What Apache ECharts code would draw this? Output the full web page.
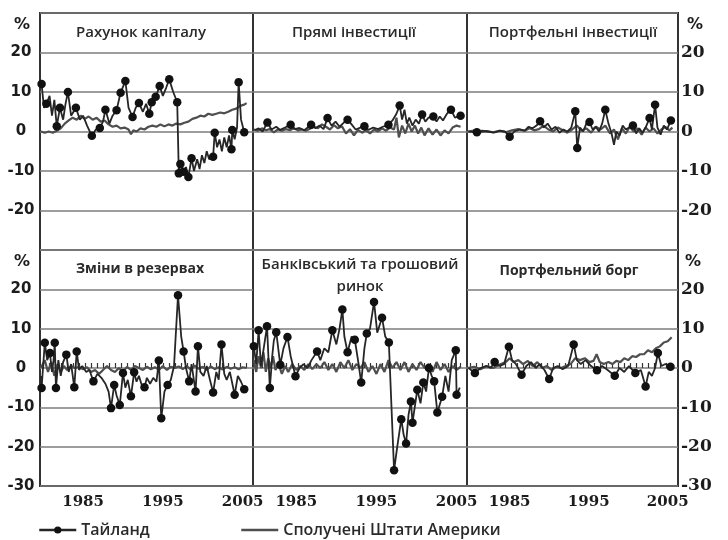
<!DOCTYPE html>
<html>
<head>
<meta charset="utf-8">
<script src="https://cdn.jsdelivr.net/npm/echarts@6/dist/echarts.min.js"></script>
<style>
  html, body { margin: 0; padding: 0; background: #fff; }
  #chart { width: 728px; height: 540px; }
</style>
</head>
<body>
<div id="chart"></div>
<script>
// Capital flows, Thailand vs United States, % of GDP, 1980-2005.
// Thailand points: [year, value, marker flag]; US points: [year, value].

const seriesNames = ['Тайланд', 'Сполучені Штати Америки'];
const panelTitles = [
  'Рахунок капіталу', 'Прямі інвестиції', 'Портфельні інвестиції',
  'Зміни в резервах', 'Банківський та грошовий\nринок', 'Портфельний борг'
];
const yearLabels = [1985, 1995, 2005];
const yTicks = [-30, -20, -10, 0, 10, 20, 30];

const capitalThai = [
  [1979.8, 12, 1], [1980.1, 6, 0], [1980.4, 7, 1], [1980.8, 9, 0], [1981.1, 4, 0], [1981.4, 8, 0],
  [1981.7, 1.3, 1], [1982.1, 6, 1], [1982.5, 3, 0], [1982.8, 7, 0], [1983.1, 10, 1], [1983.5, 4, 0],
  [1984.1, 6, 1], [1984.6, 3, 0], [1985.0, 4, 0], [1985.5, 1.5, 0], [1986.1, -1.1, 1], [1986.6, 0.5, 0],
  [1987.1, 0.9, 1], [1987.5, 2.5, 0], [1987.8, 5.5, 1], [1988.3, 2, 0], [1988.7, 4, 0], [1989.2, 5.4, 1],
  [1989.7, 9.8, 1], [1990.3, 12.8, 1], [1990.7, 6, 0], [1991.2, 3.7, 1], [1991.6, 6, 0], [1992.0, 7.2, 1],
  [1992.5, 5, 0], [1992.9, 7, 0], [1993.3, 4.5, 1], [1993.6, 7.4, 1], [1994.1, 8.8, 1], [1994.6, 11.5, 1],
  [1995.0, 9, 0], [1995.4, 11, 0], [1995.8, 13.2, 1], [1996.3, 10, 0], [1996.8, 7.4, 1], [1997.0, -10.6, 1],
  [1997.2, -8.2, 1], [1997.6, -10.2, 1], [1997.9, -9, 0], [1998.2, -11.5, 1], [1998.6, -6.8, 1], [1998.9, -10, 0],
  [1999.3, -7, 0], [1999.6, -9.5, 0], [1999.9, -6, 0], [2000.2, -8, 0], [2000.5, -5, 0], [2000.8, -7, 0],
  [2001.3, -6.4, 1], [2001.5, -0.3, 1], [2001.8, -4, 0], [2002.1, -2, 0], [2002.4, -5, 0], [2002.7, -1.5, 0],
  [2003.0, -4, 0], [2003.3, -1, 0], [2003.6, -4.5, 1], [2003.7, 0.4, 1], [2004.0, -2, 0], [2004.3, 1, 0],
  [2004.5, 12.5, 1], [2004.8, 3, 0], [2005.2, -0.2, 1]
];
const capitalUS = [
  [1979.7, 0], [1980.2, -0.3], [1980.7, 0], [1981.2, -0.3], [1981.7, 0.2], [1982.2, 0.8], [1982.7, 2],
  [1983.2, 2.8], [1983.7, 3.5], [1984.2, 3], [1984.7, 4], [1985.2, 3.2], [1985.7, 3.8], [1986.2, 3],
  [1986.7, 3.5], [1987.2, 2.5], [1987.7, 2.8], [1988.2, 1.8], [1988.7, 1.2], [1989.2, 1.5], [1989.7, 0.8],
  [1990.2, 1], [1990.7, 0.5], [1991.0, -0.7], [1991.3, 0.3], [1991.7, 0], [1992.2, 0.8], [1992.7, 0.5],
  [1993.2, 1.2], [1993.7, 1.5], [1994.2, 1.2], [1994.7, 1.8], [1995.2, 1.3], [1995.7, 1.8], [1996.2, 1.5],
  [1996.7, 2], [1997.2, 1.8], [1997.7, 2.2], [1998.2, 2.5], [1998.7, 3.2], [1999.2, 3.5], [1999.7, 4],
  [2000.2, 3.8], [2000.7, 4.5], [2001.2, 4.2], [2001.7, 4.5], [2002.2, 4.8], [2002.7, 4.6], [2003.2, 5],
  [2003.7, 5.5], [2004.2, 5.8], [2004.7, 6.5], [2005.2, 6.8], [2005.5, 7.2]
];

const directThai = [
  [1979.8, 0.3, 0], [1980.3, 0.8, 0], [1980.8, 0, 0], [1981.4, 2.3, 1], [1981.9, 0.5, 0], [1982.5, 1.2, 0],
  [1983.0, 0.4, 0], [1983.6, 1, 0], [1984.3, 1.7, 1], [1984.8, 0.6, 0], [1985.4, 0.9, 0], [1986.0, 0.3, 0],
  [1986.85, 1.7, 1], [1987.4, 0.8, 0], [1987.9, 1.5, 0], [1988.4, 0.6, 0], [1988.9, 3.4, 1], [1989.4, 1.5, 0],
  [1989.9, 2.5, 0], [1990.4, 1.2, 0], [1990.9, 2.2, 0], [1991.4, 3.0, 1], [1991.9, 1.8, 0], [1992.4, 0.5, 0],
  [1993.0, 1.0, 0], [1993.5, 1.3, 1], [1994.0, 0.4, 0], [1994.6, 1.0, 0], [1995.2, 0.6, 0], [1995.8, 1.2, 0],
  [1996.5, 1.7, 1], [1997.0, 2.8, 0], [1997.5, 4.5, 0], [1997.9, 6.6, 1], [1998.2, 3, 0], [1998.5, 5.5, 0],
  [1998.8, 2, 0], [1999.1, 3.5, 0], [1999.5, 1.5, 0], [1999.9, 3, 0], [2000.3, 2, 0], [2000.7, 4.3, 1],
  [2001.1, 2.5, 0], [2001.5, 3.5, 0], [2002.1, 3.8, 1], [2002.5, 2.5, 0], [2002.9, 3.8, 0], [2003.3, 2.8, 0],
  [2003.8, 4.5, 0], [2004.3, 5.5, 1], [2004.8, 3.5, 0], [2005.5, 4.0, 1]
];
const directUS = [
  [1979.7, 0.5], [1980.2, 0.2], [1980.7, 0.8], [1981.2, 0.3], [1981.7, 0.6], [1982.2, -0.2], [1982.7, 0.5],
  [1983.2, 0.2], [1983.7, 0.6], [1984.2, 0.3], [1984.7, 0.8], [1985.2, 0.3], [1985.7, 0.5], [1986.2, 0.2],
  [1986.7, 0.7], [1987.2, 1.2], [1987.7, 0.8], [1988.2, 1.8], [1988.7, 1.2], [1989.2, 0.5], [1989.7, 1.6],
  [1990.2, 0.8], [1990.7, 1.3], [1991.2, -0.5], [1991.7, 0.6], [1992.2, -1], [1992.7, 0.4], [1993.2, -0.3],
  [1993.7, 0.3], [1994.2, -0.5], [1994.7, 0.5], [1995.2, 0], [1995.7, 0.8], [1996.2, 0.2], [1996.7, 1],
  [1997.2, 0.5], [1997.5, 3.5], [1997.8, -1.5], [1998.2, 1.5], [1998.6, -0.5], [1999.0, 2], [1999.4, 0],
  [1999.8, 1.5], [2000.2, -0.5], [2000.6, 1], [2001.0, -1], [2001.5, 0.8], [2002.0, -0.8], [2002.5, 0.5],
  [2003.0, -1], [2003.5, 0.3], [2004.0, -0.5], [2004.5, 1], [2005.0, 1.5], [2005.5, 1.2]
];

const portfolioThai = [
  [1979.8, 0, 0], [1980.85, -0.2, 1], [1981.5, 0.2, 0], [1982.2, 0, 0], [1983.0, -0.3, 0], [1983.8, 0.2, 0],
  [1984.4, 0, 0], [1985.0, -1.3, 1], [1985.6, 0, 0], [1986.3, 0.5, 0], [1986.9, 0.2, 0], [1987.4, 1.2, 0],
  [1987.9, 0.8, 0], [1988.4, 1.5, 0], [1988.85, 2.6, 1], [1989.3, 1, 0], [1989.8, 2, 0], [1990.3, 0.5, 0],
  [1990.8, 1.2, 0], [1991.3, -0.3, 0], [1991.8, 0.5, 0], [1992.3, 0, 0], [1992.8, 1, 0], [1993.3, 5.1, 1],
  [1993.55, -4.2, 1], [1993.9, 1, 0], [1994.3, 0, 0], [1994.7, 2, 0], [1995.1, 2.4, 1], [1995.5, 0.5, 0],
  [1995.9, 1.2, 0], [1996.3, 0, 0], [1996.7, 2, 0], [1997.1, 5.5, 1], [1997.5, 2, 0], [1997.9, -0.5, 0],
  [1998.2, -3.4, 0], [1998.5, 0, 0], [1998.9, -1, 0], [1999.3, 1.5, 0], [1999.7, 0.5, 0], [2000.1, 1, 0],
  [2000.6, 1.5, 1], [2001.0, -0.5, 0], [2001.4, 0.8, 0], [2001.8, -0.3, 0], [2002.2, 1, 0], [2002.7, 3.4, 1],
  [2003.0, 0.5, 0], [2003.4, 6.8, 1], [2003.7, 1, 0], [2004.1, -0.8, 0], [2004.5, 1.5, 0], [2004.9, 0.5, 0],
  [2005.4, 2.8, 1]
];
const portfolioUS = [
  [1979.7, 0], [1980.5, 0.2], [1981.3, -0.2], [1982.1, 0.1], [1982.9, -0.2], [1983.7, 0.2], [1984.5, -0.2],
  [1985.3, 0.3], [1986.1, 0.6], [1986.9, 0.2], [1987.5, 0.8], [1988.1, 0.3], [1988.7, 0.6], [1989.3, 1.5],
  [1989.9, 0.5], [1990.5, 0], [1991.1, 1], [1991.7, 0.3], [1992.3, -0.3], [1992.9, 0.5], [1993.5, 1.5],
  [1994.1, 0.2], [1994.7, 0.8], [1995.3, -0.3], [1995.9, 1.2], [1996.5, 0.5], [1997.1, 1.5], [1997.7, -0.5],
  [1998.2, 0.5], [1998.7, -2], [1999.2, 0.8], [1999.7, -0.5], [2000.2, 1.2], [2000.7, 0], [2001.2, 0.8],
  [2001.7, -0.8], [2002.2, 1], [2002.7, 0], [2003.2, 0.8], [2003.7, -0.5], [2004.2, 0.5], [2004.7, 1.2],
  [2005.2, 0.3], [2005.6, 1]
];

const reservesThai = [
  [1979.7, -2, 0], [1979.8, -5.1, 1], [1980.2, 6.4, 1], [1980.5, 2, 0], [1980.85, 3.8, 1], [1981.1, -1, 0],
  [1981.3, 2, 0], [1981.45, 6.4, 1], [1981.6, -5.1, 1], [1981.9, 2, 0], [1982.2, -2, 0], [1982.5, 1.5, 0],
  [1982.9, 3.4, 1], [1983.2, -1, 0], [1983.5, 1, 0], [1983.9, -4.9, 1], [1984.2, 4.2, 1], [1984.5, -0.5, 0],
  [1984.9, 0.5, 0], [1985.4, -1, 0], [1985.8, -0.5, 0], [1986.3, -3.4, 1], [1986.8, -1.5, 0], [1987.3, -2.5, 0],
  [1987.8, -4, 0], [1988.2, -6, 0], [1988.5, -10.2, 1], [1988.9, -4.3, 1], [1989.2, -7, 0], [1989.6, -9.4, 1],
  [1990.0, -1.3, 1], [1990.3, -5, 0], [1990.6, -3, 0], [1991.0, -7.2, 1], [1991.4, -1.1, 1], [1991.7, -3.5, 0],
  [1992.0, -2, 0], [1992.3, -4, 0], [1992.7, -4.9, 1], [1993.0, -2.5, 0], [1993.4, -4, 0], [1993.8, -2.5, 0],
  [1994.2, -3.5, 0], [1994.5, 1.9, 1], [1994.8, -12.8, 1], [1995.2, -6, 0], [1995.6, -4.3, 1], [1996.0, -3, 0],
  [1996.4, 0.5, 0], [1996.9, 18.5, 1], [1997.3, 8, 0], [1997.6, 4.2, 1], [1997.9, 0, 0], [1998.3, -3.4, 1],
  [1998.6, 1, 0], [1999.1, -6.0, 1], [1999.4, 5.5, 1], [1999.7, -1, 0], [2000.1, -2, 0], [2000.5, 0.5, 0],
  [2000.9, -3, 0], [2001.3, -6.2, 1], [2001.7, -1, 0], [2002.0, -3, 0], [2002.35, 6.0, 1], [2002.7, -1.5, 0],
  [2003.0, -3, 0], [2003.4, -1, 0], [2004.0, -6.8, 1], [2004.4, -2, 0], [2004.8, -3.5, 0], [2005.2, -5.4, 1]
];
const reservesUS = [
  [1979.7, 0], [1980.2, 2], [1980.6, -1], [1981.0, 1.5], [1981.4, -2], [1981.8, 1], [1982.2, -1],
  [1982.6, 0.5], [1983.0, -0.5], [1983.5, 0.5], [1984.0, 0], [1984.5, 0.3], [1985.0, -0.3], [1985.5, 0.2],
  [1986.0, -1], [1986.5, -0.5], [1987.0, -1.5], [1987.5, -0.5], [1988.0, 0.5], [1988.5, -0.5], [1989.0, -1],
  [1989.5, 0], [1990.0, -1], [1990.5, 0.3], [1991.0, -0.5], [1991.5, 0.5], [1992.0, 0], [1992.5, -0.5],
  [1993.0, 0.3], [1993.5, -0.3], [1994.0, 0.2], [1994.5, -0.5], [1995.0, 0.5], [1995.5, -0.5], [1996.0, 0.3],
  [1996.5, 0], [1997.0, 0.4], [1997.5, -0.3], [1998.0, 0.5], [1998.5, -0.4], [1999.0, 0.6], [1999.5, -0.2],
  [2000.0, 0.3], [2000.5, -0.5], [2001.0, 0.4], [2001.5, -0.3], [2002.0, 0.2], [2002.5, -0.4], [2003.0, 0.3],
  [2003.5, -0.2], [2004.0, 0.2], [2004.5, -0.3], [2005.0, 0.2], [2005.5, 0]
];

const bankingThai = [
  [1979.7, 5.5, 1], [1980.0, 1, 0], [1980.3, 9.6, 1], [1980.6, 0.5, 0], [1981.35, 10.6, 1], [1981.7, -5.1, 1],
  [1982.0, 3, 0], [1982.2, 7, 0], [1982.5, 9.1, 1], [1983.0, 0.8, 1], [1983.4, 5, 0], [1983.9, 7.9, 1],
  [1984.3, 3, 0], [1984.9, -2.1, 1], [1985.4, 0, 0], [1985.9, 1, 0], [1986.4, 0, 0], [1986.9, 2, 0],
  [1987.6, 4.2, 1], [1988.0, 2, 0], [1988.5, 5, 0], [1989.0, 4, 0], [1989.5, 9.6, 1], [1990.0, 6, 0],
  [1990.4, 10, 0], [1990.75, 14.9, 1], [1991.0, 8, 0], [1991.4, 4.0, 1], [1991.9, 8, 0], [1992.3, 7.2, 1],
  [1992.7, 2, 0], [1993.1, -3.7, 1], [1993.5, 5, 0], [1993.8, 8.8, 1], [1994.2, 10, 0], [1994.7, 16.8, 1],
  [1995.1, 9, 0], [1995.7, 12.8, 1], [1996.1, 8, 0], [1996.55, 6.5, 1], [1997.2, -26.0, 1], [1997.6, -20, 0],
  [1998.1, -13.0, 1], [1998.4, -17, 0], [1998.7, -19.2, 1], [1999.0, -12, 0], [1999.3, -8.5, 1], [1999.5, -13.9, 1],
  [2000.1, -5.5, 1], [2000.5, -9, 0], [2000.85, -3.7, 1], [2001.2, -6, 0], [2001.55, 0, 1], [2001.9, -2, 0],
  [2002.2, -3.4, 1], [2002.6, -11.3, 1], [2003.2, -7.3, 1], [2003.6, -2, 0], [2004.0, -6, 0], [2004.4, 2, 0],
  [2004.9, 4.5, 1], [2005.0, -6.8, 1], [2005.4, -5, 0]
];
const bankingUS = [
  [1979.7, 2], [1980.0, -1], [1980.3, 3], [1980.6, 0], [1980.9, 4], [1981.2, -1], [1981.5, 2.5], [1981.8, 0],
  [1982.1, 3], [1982.4, -0.5], [1982.8, 1], [1983.2, -1.5], [1983.6, 0.5], [1984.0, -1], [1984.5, 1],
  [1985.0, -0.5], [1985.5, 0.5], [1986.0, -0.5], [1986.5, 1], [1987.0, -0.3], [1987.5, 1], [1988.0, 0],
  [1988.5, 1.5], [1989.0, -0.5], [1989.5, 1], [1990.0, -1], [1990.5, 1.5], [1991.0, 0], [1991.5, 2],
  [1992.0, -0.5], [1992.5, 1], [1993.0, 0], [1993.5, 1.5], [1994.0, -1], [1994.5, 0.5], [1995.0, -1.5],
  [1995.5, 1], [1996.0, -1], [1996.5, 2], [1997.0, 0], [1997.5, 1.5], [1998.0, -0.5], [1998.5, 1.5],
  [1999.0, -1], [1999.5, 1], [2000.0, -0.5], [2000.5, 1.5], [2001.0, 0], [2001.5, 1], [2002.0, -1],
  [2002.5, 1.5], [2003.0, -0.5], [2003.5, 1], [2004.0, -1], [2004.5, 0.5], [2005.0, -0.5], [2005.5, 0.3]
];

const debtThai = [
  [1979.8, 0, 0], [1980.6, -1.3, 1], [1981.3, 0, 0], [1982.0, 0.5, 0], [1982.6, 0, 0], [1983.1, 1.5, 1],
  [1983.7, 0.5, 0], [1984.3, 1, 0], [1984.9, 5.4, 1], [1985.3, 2, 0], [1985.8, 1, 0], [1986.5, -1.7, 1],
  [1987.1, 0.5, 0], [1987.7, 1.5, 0], [1988.3, 0, 0], [1988.8, 1, 0], [1989.4, -0.5, 0], [1990.0, -2.8, 1],
  [1990.5, 0, 0], [1991.1, 0.5, 0], [1991.7, -0.3, 0], [1992.4, 0.5, 0], [1993.1, 6.0, 1], [1993.5, 2, 0],
  [1994.0, 1, 0], [1994.6, 2, 0], [1995.3, 0.5, 0], [1996.05, -0.6, 1], [1996.7, 0.5, 0], [1997.4, -0.5, 0],
  [1998.3, -2.0, 1], [1998.9, 0, 0], [1999.5, -1, 0], [2000.1, 0.5, 0], [2000.9, -1.3, 1], [2001.6, -0.5, 0],
  [2002.2, -4.7, 1], [2002.6, -1, 0], [2003.0, -2, 0], [2003.4, 0, 0], [2003.75, 3.8, 1], [2004.2, 0.5, 0],
  [2004.7, 1, 0], [2005.35, 0.3, 1]
];
const debtUS = [
  [1979.7, 0], [1980.5, 0.3], [1981.3, -0.3], [1982.1, 0.5], [1982.9, 0], [1983.7, 0.8], [1984.5, 1.5],
  [1985.0, 2.5], [1985.5, 1.5], [1986.1, 2], [1986.7, 1], [1987.3, 1.8], [1987.9, 0.5], [1988.5, 1.5],
  [1989.1, 0], [1989.7, 0.5], [1990.3, -0.5], [1990.9, 0.3], [1991.5, 0], [1992.1, 0.5], [1992.7, 1],
  [1993.3, 2.5], [1993.9, 2], [1994.5, 2.5], [1995.1, 1.5], [1995.6, 1.8], [1996.0, 3.5], [1996.4, 1.5],
  [1996.9, 1], [1997.5, 1.5], [1998.0, 1], [1998.5, 1.8], [1999.0, 1.5], [1999.5, 2.5], [2000.0, 2],
  [2000.5, 3], [2001.0, 2.8], [2001.5, 3.5], [2002.0, 3.5], [2002.5, 4.5], [2003.0, 4], [2003.5, 5],
  [2004.0, 5.5], [2004.5, 6.5], [2005.0, 6.8], [2005.5, 7.8]
];

const thaiSets = [capitalThai, directThai, portfolioThai, reservesThai, bankingThai, debtThai];
const usSets = [capitalUS, directUS, portfolioUS, reservesUS, bankingUS, debtUS];

// ---- layout ----
const colLeft = [40, 253, 467];
const colWidth = [213, 214, 211];
const rowTop = [13, 250];
const rowHeight = [237, 236];
const xMin = 1979.6, xMax = 2006.3;

const frameColor = '#333333';
const gridColor = '#7d7d7d';
const thaiColor = '#262626';
const usColor = '#4f4f4f';
const textColor = '#1c1c1c';

const minorTicks = [];
for (let t = 1980; t <= 2006; t += 0.75) minorTicks.push(t);

const grids = [], xAxes = [], yAxes = [], series = [];
for (let i = 0; i < 6; i++) {
  const col = i % 3, row = Math.floor(i / 3);
  grids.push({
    left: colLeft[col], top: rowTop[row], width: colWidth[col], height: rowHeight[row],
    show: true, borderColor: frameColor, borderWidth: 2, backgroundColor: 'transparent'
  });
  xAxes.push({
    gridIndex: i, type: 'value', min: xMin, max: xMax,
    axisLine: { show: false },
    splitLine: { show: false },
    axisTick: row === 1
      ? { show: true, inside: true, length: 5, customValues: minorTicks, lineStyle: { color: frameColor, width: 1.2 } }
      : { show: false },
    axisLabel: row === 1
      ? { show: true, customValues: yearLabels, margin: 9, color: textColor,
          fontFamily: 'DejaVu Serif', fontWeight: 'bold', fontSize: 15, formatter: v => String(Math.round(v)) }
      : { show: false }
  });
  const splitColors = (i === 4)
    ? yTicks.map(v => v === 20 ? 'rgba(0,0,0,0)' : gridColor)
    : gridColor;
  const labelFmt = v => (v === 30 || (row === 0 && v === -30)) ? '' : String(v);
  let axisLabel = { show: false };
  if (col === 0) {
    axisLabel = { show: true, formatter: labelFmt, align: 'center', margin: 19, color: textColor,
      fontFamily: 'DejaVu Sans', fontWeight: 'bold', fontSize: 15 };
  } else if (col === 2) {
    axisLabel = { show: true, formatter: labelFmt, align: 'left', margin: 3, color: textColor,
      fontFamily: 'DejaVu Serif', fontWeight: 'bold', fontSize: 17 };
  }
  yAxes.push({
    gridIndex: i, type: 'value', min: -30, max: 30, interval: 10,
    position: col === 2 ? 'right' : 'left',
    axisLine: { show: false }, axisTick: { show: false },
    splitLine: { show: true, lineStyle: { color: splitColors, width: 1.5 } },
    axisLabel
  });
  series.push({
    name: seriesNames[1], type: 'line', xAxisIndex: i, yAxisIndex: i,
    data: usSets[i].map(p => [p[0], p[1]]),
    symbol: 'none', showSymbol: false,
    lineStyle: { color: usColor, width: 2.2 }, itemStyle: { color: usColor },
    silent: true, animation: false, z: 2
  });
  series.push({
    name: seriesNames[0], type: 'line', xAxisIndex: i, yAxisIndex: i,
    data: thaiSets[i].map(p => ({ value: [p[0], p[1]], symbol: p[2] ? 'circle' : 'none' })),
    symbol: 'circle', symbolSize: 8.5, showSymbol: true, showAllSymbol: true,
    lineStyle: { color: thaiColor, width: 1.8 }, itemStyle: { color: '#111' },
    silent: true, animation: false, z: 3
  });
}

// ---- panel titles and % markers ----
const titlePos = [[141, 33], [354, 33], [573, 33], [140, 269], [360, 276], [569, 271]];
const titleBold = [false, false, false, true, false, true];
const graphics = panelTitles.map((t, i) => ({
  type: 'text', x: titlePos[i][0], y: titlePos[i][1], z: 10,
  style: {
    text: t, textAlign: 'center', textVerticalAlign: 'middle',
    font: (titleBold[i] ? 'bold 14px' : '600 15px') + ' "Open Sans"', fill: '#2a2a2a', lineHeight: 22
  }
}));
[[22, 25], [695, 25], [22, 262], [693, 262]].forEach(p => graphics.push({
  type: 'text', x: p[0], y: p[1],
  style: { text: '%', textAlign: 'center', textVerticalAlign: 'middle', font: 'bold 16px "DejaVu Sans"', fill: textColor }
}));

const legendText = { fontFamily: 'Open Sans', fontSize: 16, color: '#2a2a2a', fontWeight: 600 };
const option = {
  backgroundColor: '#fff',
  animation: false,
  grid: grids, xAxis: xAxes, yAxis: yAxes, series,
  legend: [
    { data: [seriesNames[0]], left: 38, top: 522, padding: 0, itemWidth: 37, itemHeight: 9, itemGap: 0,
      textStyle: legendText, lineStyle: { width: 2.5 }, selectedMode: false },
    { data: [seriesNames[1]], left: 240, top: 522, padding: 0, itemWidth: 37, itemHeight: 9, itemGap: 0,
      textStyle: legendText, lineStyle: { width: 2.5 }, itemStyle: { opacity: 0 }, selectedMode: false }
  ],
  graphic: graphics
};

const chart = echarts.init(document.getElementById('chart'), null, { renderer: 'canvas' });
chart.setOption(option);
</script>
</body>
</html>
